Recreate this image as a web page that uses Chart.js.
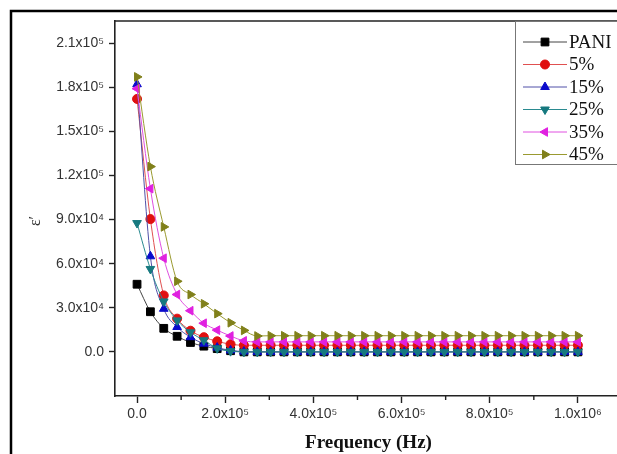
<!DOCTYPE html>
<html>
<head>
<meta charset="utf-8">
<script src="https://cdn.jsdelivr.net/npm/chart.js@4"></script>
<style>
  html, body { margin: 0; padding: 0; background: #fff; overflow: hidden; width: 617px; height: 454px; }
  #wrap { position: relative; width: 640px; height: 454px; }
</style>
</head>
<body>
<div id="wrap"><canvas id="c" width="640" height="454"></canvas></div>
<script>
// ── data ──────────────────────────────────────────────────────────────────────
var freq = [0, 30303, 60606, 90909, 121212, 151515, 181818, 212121, 242424, 272727,
  303030, 333333, 363636, 393939, 424242, 454545, 484848, 515152, 545455, 575758,
  606061, 636364, 666667, 696970, 727273, 757576, 787879, 818182, 848485, 878788,
  909091, 939394, 969697, 1000000];

var pani = [46000, 27300, 16000, 10600, 6400, 3900, 2200, 800, 0, 0,
  0, 0, 0, 0, 0, 0, 0, 0, 0, 0, 0, 0, 0, 0, 0, 0, 0, 0, 0, 0, 0, 0, 0, 0];
var p5 = [172000, 90300, 38400, 22600, 14400, 10000, 7200, 5200, 4500, 4500,
  4500, 4500, 4500, 4500, 4500, 4500, 4500, 4500, 4500, 4500, 4500, 4500, 4500, 4500,
  4500, 4500, 4500, 4500, 4500, 4500, 4500, 4500, 4500, 4500];
var p15 = [182000, 65000, 29300, 16900, 10000, 5600, 2900, 1000, 200, 0,
  0, 0, 0, 0, 0, 0, 0, 0, 0, 0, 0, 0, 0, 0, 0, 0, 0, 0, 0, 0, 0, 0, 0, 0];
var p25 = [87600, 56400, 34300, 21400, 13300, 7900, 2400, 500, 0, 0,
  0, 0, 0, 0, 0, 0, 0, 0, 0, 0, 0, 0, 0, 0, 0, 0, 0, 0, 0, 0, 0, 0, 0, 0];
var p35 = [179000, 111000, 63700, 39000, 28000, 19500, 14800, 10800, 7500, 6800,
  6800, 6800, 6800, 6800, 6800, 6800, 6800, 6800, 6800, 6800, 6800, 6800, 6800, 6800,
  6800, 6800, 6800, 6800, 6800, 6800, 6800, 6800, 6800, 6800];
var p45 = [187000, 126000, 85000, 48000, 39000, 32700, 26000, 19800, 14600, 10800,
  11000, 11000, 11000, 11000, 11000, 11000, 11000, 11000, 11000, 11000, 11000, 11000,
  11000, 11000, 11000, 11000, 11000, 11000, 11000, 11000, 11000, 11000, 11000, 11000];

var seriesNames = ["PANI", "5%", "15%", "25%", "35%", "45%"];
var xTickVals = [0, 200000, 400000, 600000, 800000, 1000000];
var xMinorVals = [100000, 300000, 500000, 700000, 900000];
var yTickVals = [0, 30000, 60000, 90000, 120000, 150000, 180000, 210000];

// ── styling ───────────────────────────────────────────────────────────────────
var COLORS = ["#000000", "#e01010", "#0a0acc", "#16797f", "#e020e0", "#80801a"];
var LINECOL = ["#444444", "#e05050", "#5050a8", "#2a8a90", "#e050e0", "#9a9a30"];
var STYLES = ["rect", "circle", "triangle", "triangle", "triangle", "triangle"];
var ROT = [0, 0, 0, 180, 270, 90];
var RADIUS = [5.5, 4.5, 5, 5, 5, 5];
var TICKFONT = { family: "'Liberation Sans', Arial, sans-serif", size: 14 };

var SUP = { "0": "\u2070", "1": "\u00b9", "2": "\u00b2", "3": "\u00b3", "4": "\u2074",
  "5": "\u2075", "6": "\u2076", "7": "\u2077", "8": "\u2078", "9": "\u2079" };

function sciLabel(v) {
  if (Math.abs(v) < 1e-9) return "0.0";
  var p = v.toExponential(1).split("e");
  var e = String(parseInt(p[1], 10)).split("").map(function (c) { return SUP[c] || c; }).join("");
  return p[0] + "x10" + e;
}

function fixedTicks(vals) {
  return function (s) { s.ticks = vals.map(function (v) { return { value: v }; }); };
}

var sets = [pani, p5, p15, p25, p35, p45].map(function (vals, i) {
  return {
    label: seriesNames[i],
    data: vals.map(function (v, k) { return { x: freq[k], y: v }; }),
    borderColor: LINECOL[i], backgroundColor: COLORS[i],
    pointBackgroundColor: COLORS[i], pointBorderColor: COLORS[i],
    pointStyle: STYLES[i], rotation: ROT[i], pointRadius: RADIUS[i], pointBorderWidth: 1,
    borderWidth: 1, cubicInterpolationMode: "monotone", order: 6 - i
  };
});

// frame, top border of the plot, x minor ticks, y title and legend box
var decor = {
  id: "decor",
  beforeDraw: function (c) {
    var ctx = c.ctx;
    ctx.save();
    ctx.fillStyle = "#fff"; ctx.fillRect(0, 0, c.width, c.height);
    ctx.strokeStyle = "#000"; ctx.lineWidth = 2.5;
    ctx.beginPath(); ctx.moveTo(11, 460); ctx.lineTo(11, 11); ctx.lineTo(640, 11); ctx.stroke();
    ctx.restore();
  },
  afterDraw: function (c) {
    var ctx = c.ctx, a = c.chartArea, xs = c.scales.x;
    ctx.save();
    ctx.strokeStyle = "#222"; ctx.lineWidth = 1.6;
    ctx.beginPath(); ctx.moveTo(a.left, a.top); ctx.lineTo(a.right, a.top); ctx.stroke();
    ctx.lineWidth = 1.4;
    xMinorVals.forEach(function (v) {
      var px = xs.getPixelForValue(v);
      ctx.beginPath(); ctx.moveTo(px, a.bottom); ctx.lineTo(px, a.bottom + 4); ctx.stroke();
    });
    // y title, rotated
    ctx.save();
    ctx.translate(36, 221); ctx.rotate(-Math.PI / 2);
    ctx.font = "16px 'Liberation Serif', serif"; ctx.fillStyle = "#333";
    ctx.textAlign = "center"; ctx.textBaseline = "middle";
    ctx.fillText("\u03b5\u2032", 0, 0);
    ctx.restore();
    // legend
    var bx = 515, by = a.top, bw = 110, bh = 143;
    ctx.fillStyle = "#fff"; ctx.fillRect(bx, by, bw, bh);
    ctx.strokeStyle = "#777"; ctx.lineWidth = 1; ctx.strokeRect(bx + 0.5, by + 0.5, bw, bh);
    ctx.font = "19px 'Liberation Serif', serif"; ctx.textBaseline = "middle"; ctx.fillStyle = "#111";
    c.data.datasets.forEach(function (d, i) {
      var y = by + 21 + i * 22.5;
      ctx.strokeStyle = d.borderColor; ctx.lineWidth = 1;
      ctx.beginPath(); ctx.moveTo(523, y); ctx.lineTo(567, y); ctx.stroke();
      ctx.fillStyle = d.backgroundColor; ctx.strokeStyle = d.backgroundColor;
      Chart.helpers.drawPoint(ctx, { pointStyle: d.pointStyle, rotation: d.rotation, radius: d.pointRadius, borderWidth: 1 }, 545, y);
      ctx.fillStyle = "#111";
      ctx.fillText(d.label, 569, y + 1);
    });
    ctx.restore();
  }
};

new Chart(document.getElementById("c"), {
  type: "line",
  data: { datasets: sets },
  plugins: [decor],
  options: {
    responsive: false, animation: false,
    layout: { padding: { left: 0, top: 21, right: 18, bottom: 0 } },
    plugins: { legend: { display: false }, tooltip: { enabled: false } },
    scales: {
      x: {
        type: "linear", min: -50000, max: 1100000,
        afterBuildTicks: fixedTicks(xTickVals),
        border: { color: "#222", width: 1.6 },
        grid: { drawOnChartArea: false, tickLength: 7, tickColor: "#222", tickWidth: 1.4 },
        ticks: { padding: 3, maxRotation: 0, autoSkip: false, color: "#333", font: TICKFONT,
          callback: function (v) { return sciLabel(v); } },
        title: { display: true, text: "Frequency (Hz)", color: "#111", padding: { top: 0, bottom: 0 },
          font: { family: "'Liberation Serif', 'Times New Roman', serif", size: 19, weight: "bold" } },
        afterFit: function (s) { s.height = 58; }
      },
      y: {
        min: -30000, max: 225000,
        afterBuildTicks: fixedTicks(yTickVals),
        border: { color: "#222", width: 1.6 },
        grid: { drawOnChartArea: false, tickLength: 6, tickColor: "#222", tickWidth: 1.4 },
        ticks: { padding: 5, autoSkip: false, color: "#333", font: TICKFONT,
          callback: function (v) { return sciLabel(v); } },
        afterFit: function (s) { s.width = 115; }
      }
    }
  }
});
</script>
</body>
</html>
